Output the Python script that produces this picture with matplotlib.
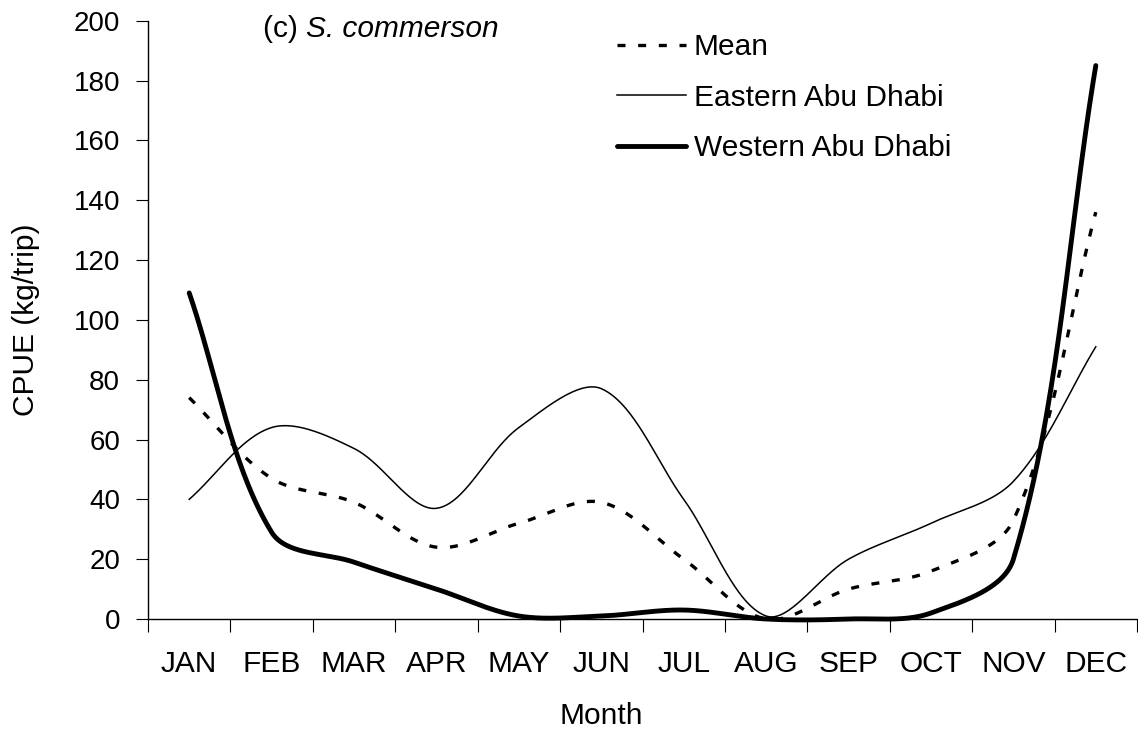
import numpy as np
import matplotlib
matplotlib.use("Agg")
import matplotlib.pyplot as plt

plt.rcParams['font.family'] = ['Liberation Sans', 'DejaVu Sans']

months = ['JAN', 'FEB', 'MAR', 'APR', 'MAY', 'JUN', 'JUL', 'AUG', 'SEP', 'OCT', 'NOV', 'DEC']
mean_cpue = [74, 47, 39, 24, 32, 39, 20, 0, 10, 16, 33, 136]
eastern_cpue = [40, 64, 57, 37, 64, 77, 40, 1, 20, 32, 46, 91]
western_cpue = [109, 29, 19, 10, 1, 1, 3, 0, 0, 2, 20, 185]
yticks = list(range(0, 201, 20))

fig = plt.figure(figsize=(11.38, 7.33), dpi=100)
W, H = 1138, 733
ax = fig.add_axes([148 / W, (H - 619) / H, 989 / W, (619 - 20.7) / H])
ax.set_xlim(-0.5, 11.5)
ax.set_ylim(0, 200)


def excel_smooth(xs, ys, ax, n=60):
    # smoothing done in display units, like a spreadsheet smoothed line
    fig.canvas.draw()
    p0d = ax.transData.transform((0, 0))
    p1d = ax.transData.transform((1, 1))
    sx, sy = abs(p1d[0] - p0d[0]), abs(p1d[1] - p0d[1])
    P = np.column_stack([np.asarray(xs, float) * sx, np.asarray(ys, float) * sy])
    N = len(P)
    out = [P[0]]
    t = np.linspace(0, 1, n)[1:, None]
    for i in range(N - 1):
        a = P[i - 1] if i > 0 else P[i]
        b = P[i]
        c = P[i + 1]
        d = P[i + 2] if i + 2 < N else P[i + 1]
        dab = np.linalg.norm(b - a)
        dbc = np.linalg.norm(c - b)
        dcd = np.linalg.norm(d - c)
        c1 = b + (c - a) * (dbc / (dab + dbc)) / 3 if dab + dbc > 0 else b
        c2 = c - (d - b) * (dbc / (dbc + dcd)) / 3 if dbc + dcd > 0 else c
        B = (1 - t) ** 3 * b + 3 * (1 - t) ** 2 * t * c1 + 3 * (1 - t) * t ** 2 * c2 + t ** 3 * c
        out.extend(B)
    out = np.array(out)
    return out[:, 0] / sx, out[:, 1] / sy


x = np.arange(len(months))
xm, ym = excel_smooth(x, mean_cpue, ax)
xe, ye = excel_smooth(x, eastern_cpue, ax)
xw, yw = excel_smooth(x, western_cpue, ax)

l_mean, = ax.plot(xm, ym, color='black', lw=2.4, linestyle=(0, (2.4, 3.8)),
                  dash_capstyle='butt', clip_on=False, label='Mean')
l_east, = ax.plot(xe, ye, color='black', lw=1.1, clip_on=False,
                  solid_joinstyle='round', label='Eastern Abu Dhabi')
l_west, = ax.plot(xw, yw, color='black', lw=3.5, clip_on=False,
                  solid_capstyle='round', solid_joinstyle='round',
                  label='Western Abu Dhabi')

for s in ['top', 'right']:
    ax.spines[s].set_visible(False)
for s in ['left', 'bottom']:
    ax.spines[s].set_linewidth(1.0)

ax.set_yticks(yticks)
ax.set_yticklabels([str(v) for v in yticks], fontsize=20)
ax.tick_params(axis='y', direction='out', length=9, width=0.8, pad=11)

ax.set_xticks(np.arange(-0.5, 12, 1))
ax.set_xticklabels([])
ax.tick_params(axis='x', which='major', direction='out', length=9, width=0.8)
ax.set_xticks(x, minor=True)
ax.set_xticklabels(months, minor=True, fontsize=21.5)
ax.tick_params(axis='x', which='minor', length=0, pad=22)

ax.set_xlabel('Month', fontsize=21.5)
ax.xaxis.set_label_coords(0.458, -0.139)
ax.set_ylabel('CPUE (kg/trip)', fontsize=21.5, labelpad=24)

t1 = ax.text(0.1163, 0.9724, '(c) ', transform=ax.transAxes, fontsize=21.5,
             va='baseline', ha='left')
ax.annotate('S. commerson', xy=(1, 0), xycoords=t1, fontsize=21.5,
            style='italic', va='bottom', ha='left')

ax.legend(handles=[l_mean, l_east, l_west], loc='upper left',
          bbox_to_anchor=(617 / W, 1 - 33 / H), bbox_transform=fig.transFigure,
          frameon=False, fontsize=21.5, handlelength=2.3, handletextpad=0.27,
          labelspacing=0.76, borderpad=0, borderaxespad=0)

fig.savefig('out.png', dpi=100)
